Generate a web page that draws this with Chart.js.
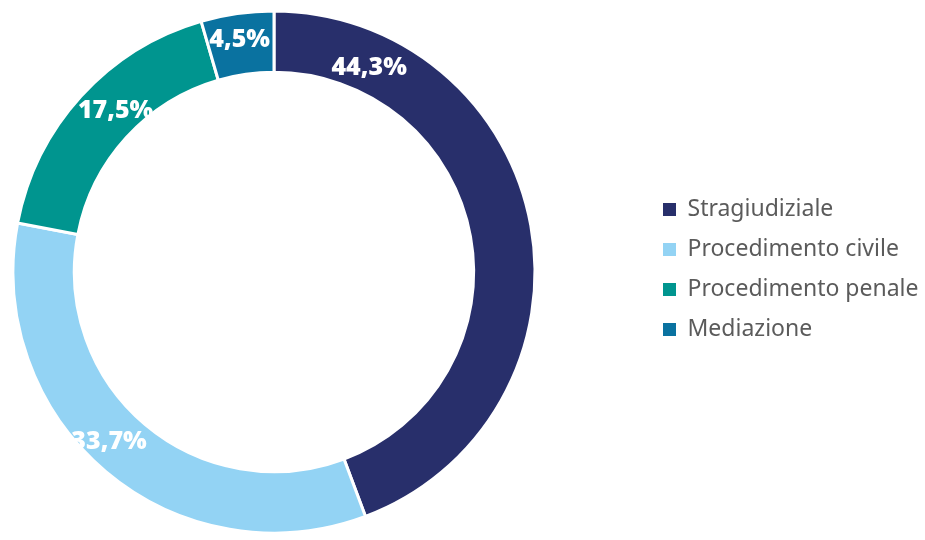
<!DOCTYPE html>
<html>
<head>
<meta charset="utf-8">
<script src="https://cdn.jsdelivr.net/npm/chart.js@4"></script>
<style>
  html, body { margin: 0; padding: 0; background: #ffffff; }
  #wrap { width: 925px; height: 540px; }
</style>
</head>
<body>
<div id="wrap"><canvas id="chart" width="925" height="540"></canvas></div>
<script>
// Ripartizione per tipologia di procedimento (%)
const categories = ['Stragiudiziale', 'Procedimento civile', 'Procedimento penale', 'Mediazione'];
const shares = [44.3, 33.7, 17.5, 4.5];
const valueLabels = ['44,3%', '33,7%', '17,5%', '4,5%'];
const sliceColors = ['#282f6b', '#93d3f4', '#00958f', '#0a72a0'];

// where along each slice its value label sits (0 = start of the arc, 1 = end),
// and how far (px) it is pushed out from the middle of the ring
const labelAlong = [0.157, 0.533, 0.55, 0.48];
const labelPush = [-5.5, 6.5, -4.5, 4];

// ring placement and legend position inside the canvas
const ring = { cx: 274, cy: 272, r: 262.5 };
const legendBox = { left: 646, top: 181 };

const placement = {
  id: 'placement',
  afterLayout(chart) {
    chart.chartArea = {
      left: ring.cx - ring.r, top: ring.cy - ring.r,
      right: ring.cx + ring.r, bottom: ring.cy + ring.r,
      width: ring.r * 2, height: ring.r * 2
    };
    const lg = chart.legend;
    if (lg) {
      const w = lg.width, h = lg.height;
      lg.left = legendBox.left; lg.right = legendBox.left + w;
      lg.top = legendBox.top; lg.bottom = legendBox.top + h;
    }
  }
};

const sliceLabels = {
  id: 'sliceLabels',
  afterDatasetsDraw(chart) {
    const ctx = chart.ctx;
    const arcs = chart.getDatasetMeta(0).data;
    ctx.save();
    ctx.fillStyle = '#ffffff';
    ctx.font = '800 25px "Open Sans", "Noto Sans", sans-serif';
    ctx.textAlign = 'center';
    ctx.textBaseline = 'middle';
    arcs.forEach((arc, i) => {
      const p = arc.getProps(['x', 'y', 'startAngle', 'endAngle', 'innerRadius', 'outerRadius'], true);
      const a = p.startAngle + labelAlong[i] * (p.endAngle - p.startAngle);
      const r = (p.innerRadius + p.outerRadius) / 2 + labelPush[i];
      ctx.fillText(valueLabels[i], p.x + Math.cos(a) * r, p.y + Math.sin(a) * r);
    });
    ctx.restore();
  }
};

new Chart(document.getElementById('chart'), {
  type: 'doughnut',
  data: {
    labels: categories,
    datasets: [{
      data: shares,
      backgroundColor: sliceColors,
      borderColor: '#ffffff',
      borderWidth: 3,
      hoverOffset: 0
    }]
  },
  options: {
    responsive: false,
    devicePixelRatio: 1,
    animation: false,
    cutout: '76.5%',
    plugins: {
      tooltip: { enabled: false },
      legend: {
        position: 'right',
        align: 'start',
        labels: {
          boxWidth: 13,
          boxHeight: 13,
          padding: 17,
          color: '#5b5b5b',
          font: { family: '"Noto Sans", "Open Sans", sans-serif', size: 23 },
          generateLabels(chart) {
            const base = Chart.overrides.doughnut.plugins.legend.labels.generateLabels(chart);
            return base.map(item => Object.assign(item, { lineWidth: 0, strokeStyle: 'rgba(0,0,0,0)' }));
          }
        }
      }
    }
  },
  plugins: [placement, sliceLabels]
});
</script>
</body>
</html>
